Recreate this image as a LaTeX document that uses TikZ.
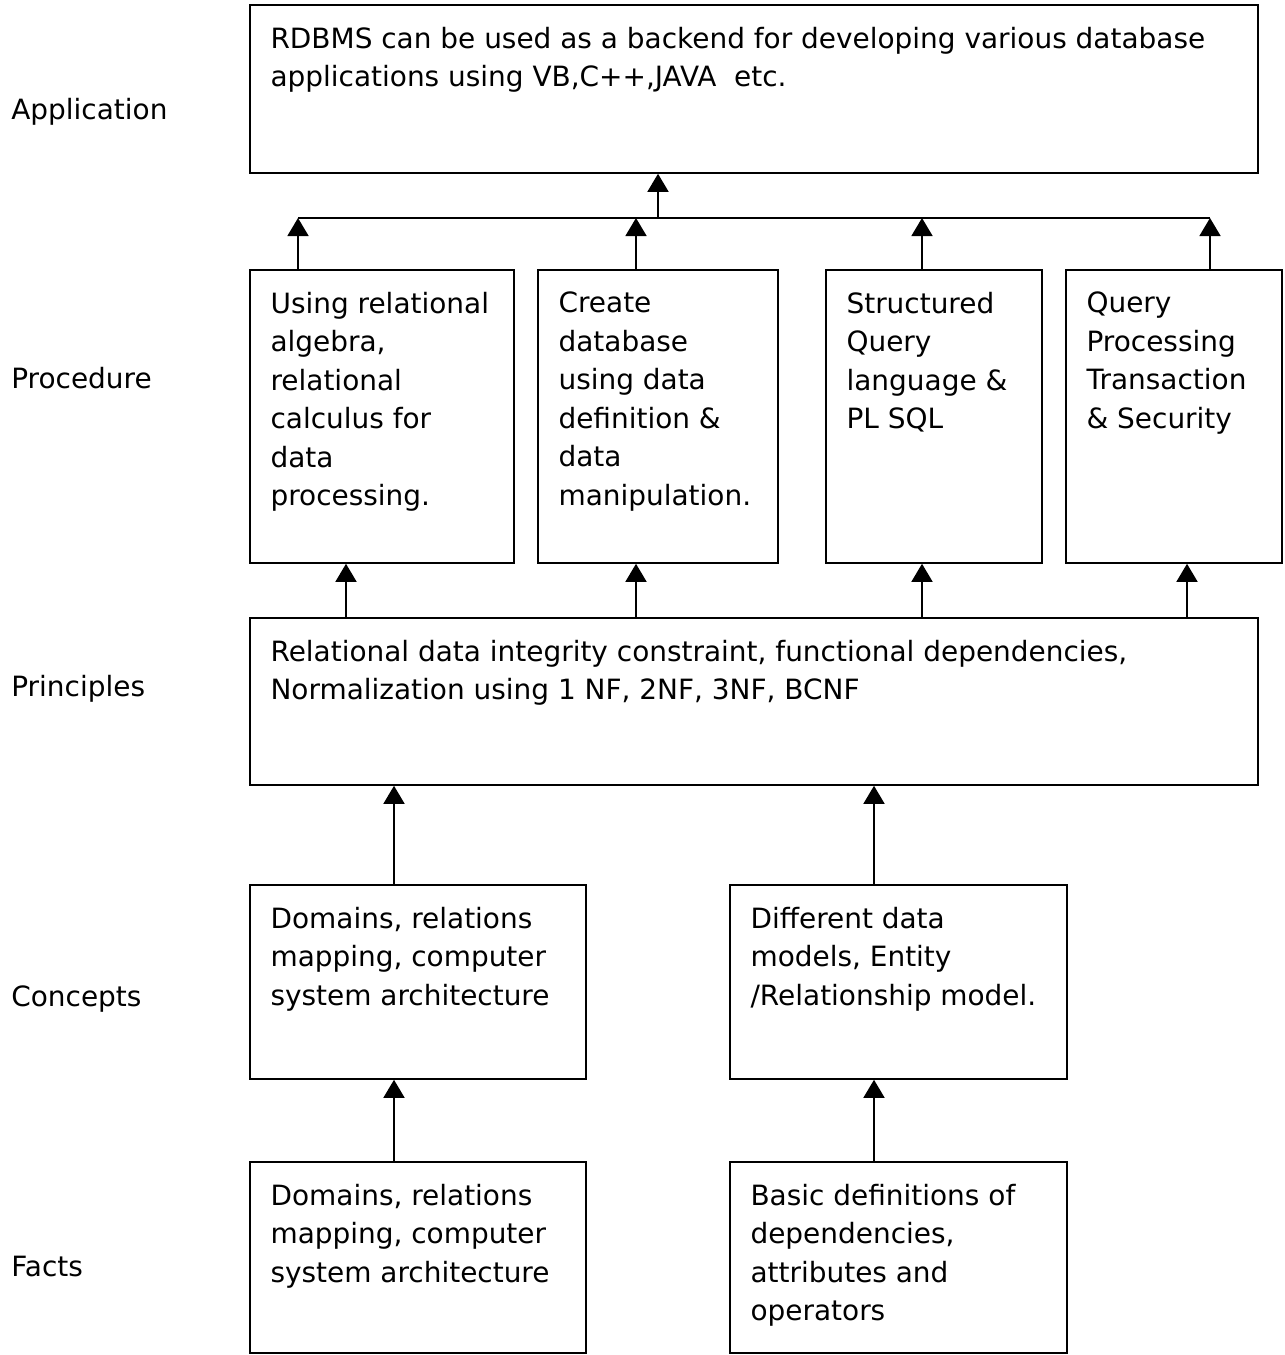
\documentclass[tikz,border=0pt]{standalone}
\usepackage{fontspec}
\setmainfont{DejaVu Sans}
\usetikzlibrary{arrows.meta}

\begin{document}
\begin{tikzpicture}[
    box/.style={rectangle,draw,line width=0.9pt},
    txt/.style={anchor=north west,align=left,inner sep=0pt,font=\fontsize{15.9}{21.9}\selectfont},
    lvl/.style={anchor=base west,inner sep=0pt,font=\fontsize{15.9}{21.9}\selectfont},
    arr/.style={line width=0.9pt,-{Triangle[length=0.36cm,width=0.42cm]}}
]
    \useasboundingbox (0,0) rectangle (25.7,-27.1);

    % levels on the left
    \node[lvl] (L1) at (0.22,-2.38) {Application};
    \node[lvl] (L2) at (0.22,-7.76) {Procedure};
    \node[lvl] (L3) at (0.22,-13.92) {Principles};
    \node[lvl] (L4) at (0.22,-20.12) {Concepts};
    \node[lvl] (L5) at (0.22,-25.52) {Facts};

    % boxes
    \node[box,minimum width=20.16cm,minimum height=3.36cm] (A) at (15.08,-1.78) {};
    \node[box,minimum width=5.28cm,minimum height=5.86cm] (P1) at (7.64,-8.33) {};
    \node[box,minimum width=4.8cm,minimum height=5.86cm] (P2) at (13.16,-8.33) {};
    \node[box,minimum width=4.32cm,minimum height=5.86cm] (P3) at (18.68,-8.33) {};
    \node[box,minimum width=4.32cm,minimum height=5.86cm] (P4) at (23.48,-8.33) {};
    \node[box,minimum width=20.16cm,minimum height=3.34cm] (R) at (15.08,-14.03) {};
    \node[box,minimum width=6.72cm,minimum height=3.88cm] (C1) at (8.36,-19.64) {};
    \node[box,minimum width=6.74cm,minimum height=3.88cm] (C2) at (17.97,-19.64) {};
    \node[box,minimum width=6.72cm,minimum height=3.82cm] (F1) at (8.36,-25.15) {};
    \node[box,minimum width=6.74cm,minimum height=3.82cm] (F2) at (17.97,-25.15) {};

    % texts
    \node[txt] (At) at ([shift={(0.42,-0.45)}]A.north west) {RDBMS can be used as a backend for developing various database\\applications using VB,C++,JAVA\ \ etc.};
    \node[txt] (P1t) at ([shift={(0.42,-0.45)}]P1.north west) {Using relational\\algebra,\\relational\\calculus for\\data\\processing.};
    \node[txt] (P2t) at ([shift={(0.42,-0.45)}]P2.north west) {Create\\database\\using data\\definition \&\\data\\manipulation.};
    \node[txt] (P3t) at ([shift={(0.42,-0.45)}]P3.north west) {Structured\\Query\\language \&\\PL SQL};
    \node[txt] (P4t) at ([shift={(0.42,-0.45)}]P4.north west) {Query\\Processing\\Transaction\\\& Security};
    \node[txt] (Rt) at ([shift={(0.42,-0.45)}]R.north west) {Relational data integrity constraint, functional dependencies,\\Normalization using 1 NF, 2NF, 3NF, BCNF};
    \node[txt] (C1t) at ([shift={(0.42,-0.45)}]C1.north west) {Domains, relations\\mapping, computer\\system architecture};
    \node[txt] (C2t) at ([shift={(0.42,-0.45)}]C2.north west) {Different data\\models, Entity\\/Relationship model.};
    \node[txt] (F1t) at ([shift={(0.42,-0.45)}]F1.north west) {Domains, relations\\mapping, computer\\system architecture};
    \node[txt] (F2t) at ([shift={(0.42,-0.45)}]F2.north west) {Basic definitions of\\dependencies,\\attributes and\\operators};

    % columns of the arrows
    \coordinate (u1) at (5.96,-4.36);
    \coordinate (u2) at (12.72,-4.36);
    \coordinate (u3) at (18.44,-4.36);
    \coordinate (u4) at (24.2,-4.36);
    \coordinate (um) at (13.16,-4.36);
    \coordinate (d1) at (6.92,0);
    \coordinate (d2) at (12.72,0);
    \coordinate (d3) at (18.44,0);
    \coordinate (d4) at (23.74,0);
    \coordinate (e1) at (7.88,0);
    \coordinate (e2) at (17.48,0);

    \draw[line width=0.9pt] (u1) -- (u4);
    \draw[arr] (um) -- (A.south -| um);
    \draw[arr] (P1.north -| u1) -- (u1);
    \draw[arr] (P2.north -| u2) -- (u2);
    \draw[arr] (P3.north -| u3) -- (u3);
    \draw[arr] (P4.north -| u4) -- (u4);

    \draw[arr] (R.north -| d1) -- (P1.south -| d1);
    \draw[arr] (R.north -| d2) -- (P2.south -| d2);
    \draw[arr] (R.north -| d3) -- (P3.south -| d3);
    \draw[arr] (R.north -| d4) -- (P4.south -| d4);

    \draw[arr] (C1.north -| e1) -- (R.south -| e1);
    \draw[arr] (C2.north -| e2) -- (R.south -| e2);
    \draw[arr] (F1.north -| e1) -- (C1.south -| e1);
    \draw[arr] (F2.north -| e2) -- (C2.south -| e2);
\end{tikzpicture}
\end{document}
